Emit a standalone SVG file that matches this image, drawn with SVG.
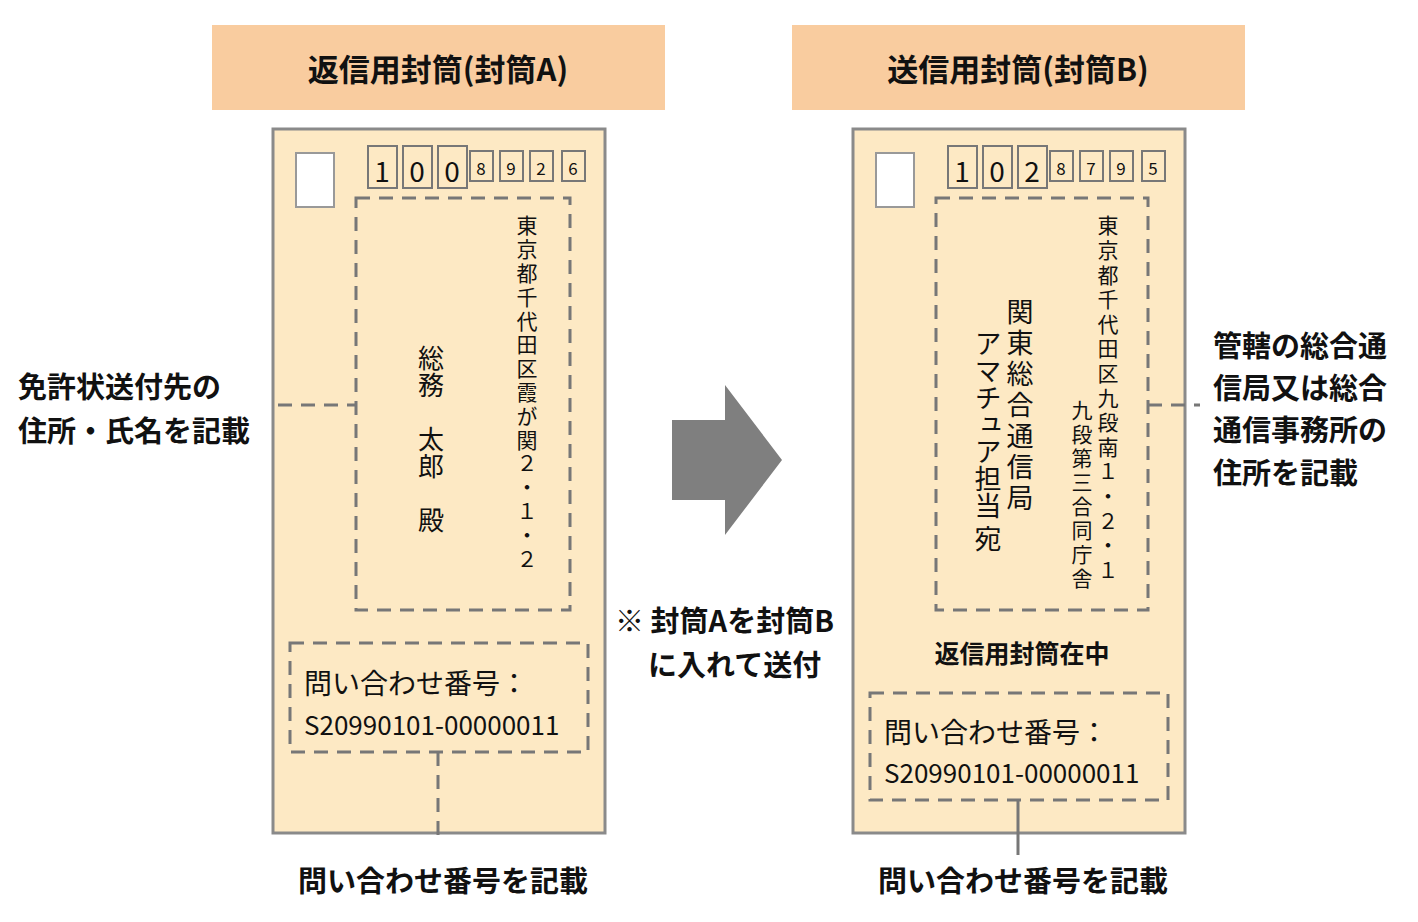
<svg xmlns="http://www.w3.org/2000/svg" width="1418" height="922" viewBox="0 0 1418 922">
<style>
text{font-family:"Noto Sans CJK JP","Noto Sans",sans-serif;fill:#111}
.b{font-weight:bold}
.hdr{fill:#f9cc9f}
.env{fill:#fde9c4;stroke:#8a8a8a;stroke-width:3}
.zip{fill:none;stroke:#777;stroke-width:2}
.dash{fill:none;stroke:#777;stroke-width:3;stroke-dasharray:14,9}
.v{writing-mode:vertical-rl}
</style>
<rect width="1418" height="922" fill="#fff"/>
<g id="headerA"><rect class="hdr" x="212" y="25" width="453" height="85"/><text class="b" x="438" y="81" font-size="31" text-anchor="middle">返信用封筒(封筒A)</text></g>
<g id="headerB"><rect class="hdr" x="792" y="25" width="453" height="85"/><text class="b" x="1018" y="81" font-size="31" text-anchor="middle">送信用封筒(封筒B)</text></g>
<g id="envelopeA">
<rect class="env" x="273" y="129" width="332" height="704"/>
<rect x="296" y="153" width="38" height="54" fill="#fff" stroke="#999" stroke-width="2"/>
<rect class="zip" x="368" y="146" width="29" height="42"/><rect class="zip" x="403" y="146" width="29" height="42"/><rect class="zip" x="438" y="146" width="29" height="42"/>
<rect class="zip" x="470" y="151" width="23" height="30"/><rect class="zip" x="500" y="151" width="23" height="30"/><rect class="zip" x="530" y="151" width="23" height="30"/><rect class="zip" x="562" y="151" width="23" height="30"/>
<g font-size="28" text-anchor="middle"><text x="382" y="182">1</text><text x="417" y="182">0</text><text x="452" y="182">0</text></g>
<g font-size="17" text-anchor="middle"><text x="481" y="175">8</text><text x="511" y="175">9</text><text x="541" y="175">2</text><text x="573" y="175">6</text></g>
<rect class="dash" x="356" y="198" width="214" height="412"/>
<text class="v" x="527" y="215" font-size="21" letter-spacing="2.8">東京都千代田区霞が関２・１・２</text>
<text class="v" x="431" y="345" font-size="26" letter-spacing="1">総務　太郎　殿</text>
<rect class="dash" x="290" y="643" width="298" height="109"/>
<text x="304" y="694" font-size="28">問い合わせ番号：</text>
<text x="304" y="735" font-size="26">S20990101-00000011</text>
</g>
<g id="envelopeB">
<rect class="env" x="853" y="129" width="332" height="704"/>
<rect x="876" y="153" width="38" height="54" fill="#fff" stroke="#999" stroke-width="2"/>
<rect class="zip" x="948" y="146" width="29" height="42"/><rect class="zip" x="983" y="146" width="29" height="42"/><rect class="zip" x="1018" y="146" width="29" height="42"/>
<rect class="zip" x="1050" y="151" width="23" height="30"/><rect class="zip" x="1080" y="151" width="23" height="30"/><rect class="zip" x="1110" y="151" width="23" height="30"/><rect class="zip" x="1142" y="151" width="23" height="30"/>
<g font-size="28" text-anchor="middle"><text x="962" y="182">1</text><text x="997" y="182">0</text><text x="1032" y="182">2</text></g>
<g font-size="17" text-anchor="middle"><text x="1061" y="175">8</text><text x="1091" y="175">7</text><text x="1121" y="175">9</text><text x="1153" y="175">5</text></g>
<rect class="dash" x="936" y="198" width="212" height="412"/>
<text class="v" x="1108" y="215" font-size="21" letter-spacing="3.6">東京都千代田区九段南１・２・１</text>
<text class="v" x="1082" y="400" font-size="21" letter-spacing="3">九段第三合同庁舎</text>
<text class="v" x="1020" y="298" font-size="27" letter-spacing="4">関東総合通信局</text>
<text class="v" x="988" y="330" font-size="27" letter-spacing="0">アマチュア担当 宛</text>
<text class="b" x="1022" y="663" font-size="25" text-anchor="middle">返信用封筒在中</text>
<rect class="dash" x="870" y="693" width="298" height="107"/>
<text x="884" y="743" font-size="28">問い合わせ番号：</text>
<text x="884" y="783" font-size="26">S20990101-00000011</text>
</g>
<g id="arrow"><polygon points="672,420 725,420 725,385 782,460 725,535 725,500 672,500" fill="#7f7f7f"/></g>
<g id="connectors">
<line class="dash" x1="278" y1="405" x2="356" y2="405"/>
<line class="dash" x1="1148" y1="405" x2="1200" y2="405"/>
<line class="dash" x1="438" y1="752" x2="438" y2="835"/>
<line x1="1018" y1="800" x2="1018" y2="855" stroke="#777" stroke-width="3"/>
</g>
<g id="labels" class="b" font-size="29">
<text x="18" y="398">免許状送付先の</text>
<text x="18" y="442">住所・氏名を記載</text>
<text x="1213" y="357">管轄の総合通</text>
<text x="1213" y="399">信局又は総合</text>
<text x="1213" y="441">通信事務所の</text>
<text x="1213" y="484">住所を記載</text>
<text x="443" y="892" text-anchor="middle">問い合わせ番号を記載</text>
<text x="1023" y="892" text-anchor="middle">問い合わせ番号を記載</text>
<text x="615" y="632">※ 封筒Aを封筒B</text>
<text x="648" y="676">に入れて送付</text>
</g>
</svg>
